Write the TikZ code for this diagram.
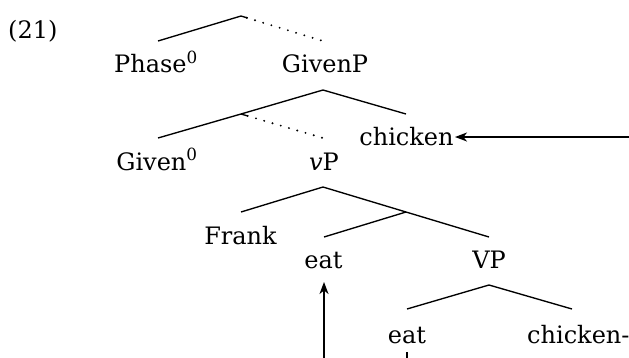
\documentclass[tikz,border=0pt]{standalone}
\usepackage{fontspec}
\setmainfont{DejaVu Serif}
\usetikzlibrary{arrows.meta,calc}
\begin{document}
\begin{tikzpicture}[x=1pt,y=-1pt,
  lbl/.style={anchor=base,inner sep=0pt,font=\fontsize{24}{26}\selectfont},
  br/.style={line width=1.35pt},
  dotbr/.style={line width=2.1pt,line cap=round,dash pattern=on 0pt off 8.6pt},
  mv/.style={line width=1.35pt,-{Stealth[length=12pt,width=9pt,inset=3.5pt]}}]
\useasboundingbox (0,0) rectangle (629,357);
% labels
\node[lbl,anchor=base west] (ex) at (8,38) {(21)};
\node[lbl] (phase) at (156,72.5) {Phase\textsuperscript{0}};
\node[lbl] (givenp) at (325,72.5) {GivenP};
\node[lbl] (given) at (157,170) {Given\textsuperscript{0}};
\node[lbl] (vp) at (324,170) {\textit{v}P};
\node[lbl] (chk) at (406.5,145) {chicken};
\node[lbl] (frank) at (240.5,244) {Frank};
\node[lbl] (eat) at (323.5,268.5) {eat};
\node[lbl] (VP) at (489,268.5) {VP};
\node[lbl] (eatb) at (407,343) {eat};
\node[lbl,anchor=base west] (chkb) at (527,343) {chicken-};
% branch points
\coordinate (a0) at (241,16);
\coordinate (a1) at (158,41);
\coordinate (a2) at (323,41);
\coordinate (b0) at (323,90);
\coordinate (b1) at (241,114);
\coordinate (b2) at (158,138);
\coordinate (b3) at (406,114);
\coordinate (b4) at (323,138);
\coordinate (c0) at (323,187);
\coordinate (c1) at (241,212);
\coordinate (c2) at (406,212);
\coordinate (c3) at (489,237);
\coordinate (c4) at (324,237);
\coordinate (d0) at (489,285);
\coordinate (d1) at (407,309);
\coordinate (d2) at (572,309);
\coordinate (a3) at ($(a0)!7pt!(a2)$);
\coordinate (b5) at ($(b1)!7pt!(b4)$);
% tree branches
\draw[br] (a1) -- (a0) -- (a3);
\draw[dotbr] ($(a3)!-1pt!(a2)$) -- (a2);
\draw[br] (b2) -- (b1) -- (b0) -- (b3);
\draw[br] (b1) -- (b5);
\draw[dotbr] (b5) -- (b4);
\draw[br] (c1) -- (c0) -- (c2) -- (c3);
\draw[br] (c2) -- (c4);
\draw[br] (d1) -- (d0) -- (d2);
% movement arrows
\coordinate (m1s) at (640,137);
\coordinate (m1e) at (455,137);
\draw[mv] (m1s) -- (m1e);
\coordinate (m2s) at (324,370);
\coordinate (m2e) at (324,282);
\draw[mv] (m2s) -- (m2e);
\coordinate (t1) at (407,352);
\coordinate (t2) at (407,370);
\draw[br] (t1) -- (t2);
\end{tikzpicture}
\end{document}
